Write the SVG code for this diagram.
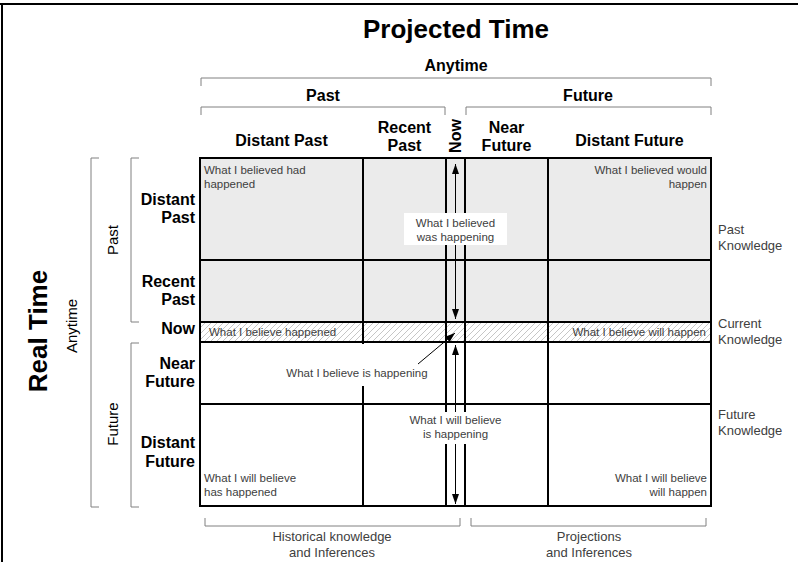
<svg xmlns="http://www.w3.org/2000/svg" width="798" height="562" viewBox="0 0 798 562">
<defs>
<pattern id="hatch" width="6" height="6" patternUnits="userSpaceOnUse">
<path d="M-1,1 L1,-1 M0,6 L6,0 M5,7 L7,5" stroke="#b8b8b8" stroke-width="0.8"/>
</pattern>
<marker id="ah" viewBox="0 0 10 10" refX="10" refY="5" markerWidth="10" markerHeight="10" markerUnits="userSpaceOnUse" orient="auto-start-reverse">
<path d="M0,1.5 L10,5 L0,8.5 z" fill="#000"/>
</marker>
</defs>
<style>
text{font-family:"Liberation Sans",Arial,sans-serif}
.h{font-weight:bold;font-size:16px;fill:#000}
.v{font-size:15px;fill:#000}
.t{font-weight:bold;font-size:26px;fill:#000}
.c{font-size:11.5px;fill:#404040}
.r{font-size:13px;fill:#404040}
.br{fill:none;stroke:#808080;stroke-width:1}
.g{stroke:#000;stroke-width:2;fill:none}
.box{fill:#fff}
</style>
<rect width="798" height="562" fill="#fff"/>
<path d="M0,4 H798 M2,3 V562" stroke="#000" stroke-width="2" fill="none"/>

<g id="title">
<text class="t" x="456" y="38" text-anchor="middle">Projected Time</text>
<text class="t" transform="translate(47,331) rotate(-90)" text-anchor="middle">Real Time</text>
</g>

<g id="top-headers">
<text class="h" x="456" y="71" text-anchor="middle">Anytime</text>
<path class="br" d="M201,86 V78 H711 V86"/>
<text class="h" x="323" y="101" text-anchor="middle">Past</text>
<text class="h" x="588" y="101" text-anchor="middle">Future</text>
<path class="br" d="M201,115 V107 H445 V115 M466,115 V107 H711 V115"/>
<text class="h" x="281.5" y="146" text-anchor="middle">Distant Past</text>
<text class="h" x="404.5" text-anchor="middle"><tspan x="404.5" y="133">Recent</tspan><tspan x="404.5" y="151">Past</tspan></text>
<text class="h" transform="translate(461,136) rotate(-90)" text-anchor="middle">Now</text>
<text class="h" x="506.5" text-anchor="middle"><tspan x="506.5" y="133">Near</tspan><tspan x="506.5" y="151">Future</tspan></text>
<text class="h" x="629.5" y="146" text-anchor="middle">Distant Future</text>
</g>

<g id="left-headers">
<text class="v" transform="translate(77,326) rotate(-90)" text-anchor="middle">Anytime</text>
<path class="br" d="M99,158 H91 V507 H99"/>
<text class="v" transform="translate(118,240) rotate(-90)" text-anchor="middle">Past</text>
<path class="br" d="M139,158 H131 V322 H139"/>
<text class="v" transform="translate(118,424) rotate(-90)" text-anchor="middle">Future</text>
<path class="br" d="M139,343 H131 V507 H139"/>
<text class="h" text-anchor="end"><tspan x="195" y="205">Distant</tspan><tspan x="195" y="223">Past</tspan></text>
<text class="h" text-anchor="end"><tspan x="195" y="287">Recent</tspan><tspan x="195" y="305">Past</tspan></text>
<text class="h" x="195" y="334" text-anchor="end">Now</text>
<text class="h" text-anchor="end"><tspan x="195" y="369">Near</tspan><tspan x="195" y="387">Future</tspan></text>
<text class="h" text-anchor="end"><tspan x="195" y="448">Distant</tspan><tspan x="195" y="467">Future</tspan></text>
</g>

<g id="grid">
<rect x="200" y="158" width="511" height="164" fill="#ebebeb"/>
<rect x="200" y="322" width="511" height="20" fill="url(#hatch)"/>
<rect x="200" y="158" width="511" height="348" class="g"/>
<path class="g" d="M200,260 H711 M200,322 H711 M200,342 H711 M200,404 H711 M363,158 V506 M446,158 V506 M465,158 V506 M548,158 V506"/>
</g>

<g id="cell-texts">
<text class="c"><tspan x="204" y="174">What I believed had</tspan><tspan x="204" y="188">happened</tspan></text>
<text class="c" text-anchor="end"><tspan x="707" y="174">What I believed would</tspan><tspan x="707" y="188">happen</tspan></text>
<text class="c" x="209" y="336">What I believe happened</text>
<text class="c" x="706" y="336" text-anchor="end">What I believe will happen</text>
<text class="c"><tspan x="204" y="482">What I will believe</tspan><tspan x="204" y="496">has happened</tspan></text>
<text class="c" text-anchor="end"><tspan x="707" y="482">What I will believe</tspan><tspan x="707" y="496">will happen</tspan></text>
</g>

<g id="connectors">
<line x1="455.5" y1="164" x2="455.5" y2="319" stroke="#000" stroke-width="1" marker-start="url(#ah)" marker-end="url(#ah)"/>
<line x1="455.5" y1="345" x2="455.5" y2="504" stroke="#000" stroke-width="1" marker-start="url(#ah)" marker-end="url(#ah)"/>
</g>

<g id="label-was-happening">
<rect class="box" x="404" y="213" width="103" height="32"/>
<text class="c" text-anchor="middle"><tspan x="455.5" y="227">What I believed</tspan><tspan x="455.5" y="241">was happening</tspan></text>
</g>

<g id="label-is-happening">
<rect class="box" x="288" y="344" width="146" height="42"/>
<text class="c" x="357" y="377" text-anchor="middle">What I believe is happening</text>
</g>

<g id="label-will-be-happening">
<rect class="box" x="407" y="412" width="98" height="32"/>
<text class="c" text-anchor="middle"><tspan x="455.5" y="424">What I will believe</tspan><tspan x="455.5" y="438">is happening</tspan></text>
</g>

<g id="connector-diag">
<line x1="418" y1="364" x2="455" y2="333" stroke="#000" stroke-width="1" marker-end="url(#ah)"/>
</g>

<g id="right-labels">
<text class="r"><tspan x="718" y="234">Past</tspan><tspan x="718" y="250">Knowledge</tspan></text>
<text class="r"><tspan x="718" y="328">Current</tspan><tspan x="718" y="344">Knowledge</tspan></text>
<text class="r"><tspan x="718" y="419">Future</tspan><tspan x="718" y="435">Knowledge</tspan></text>
</g>

<g id="bottom-labels">
<path class="br" d="M205,518 V526 H460 V518 M471,518 V526 H706 V518"/>
<text class="r" text-anchor="middle"><tspan x="332" y="541">Historical knowledge</tspan><tspan x="332" y="557">and Inferences</tspan></text>
<text class="r" text-anchor="middle"><tspan x="589" y="541">Projections</tspan><tspan x="589" y="557">and Inferences</tspan></text>
</g>
</svg>
